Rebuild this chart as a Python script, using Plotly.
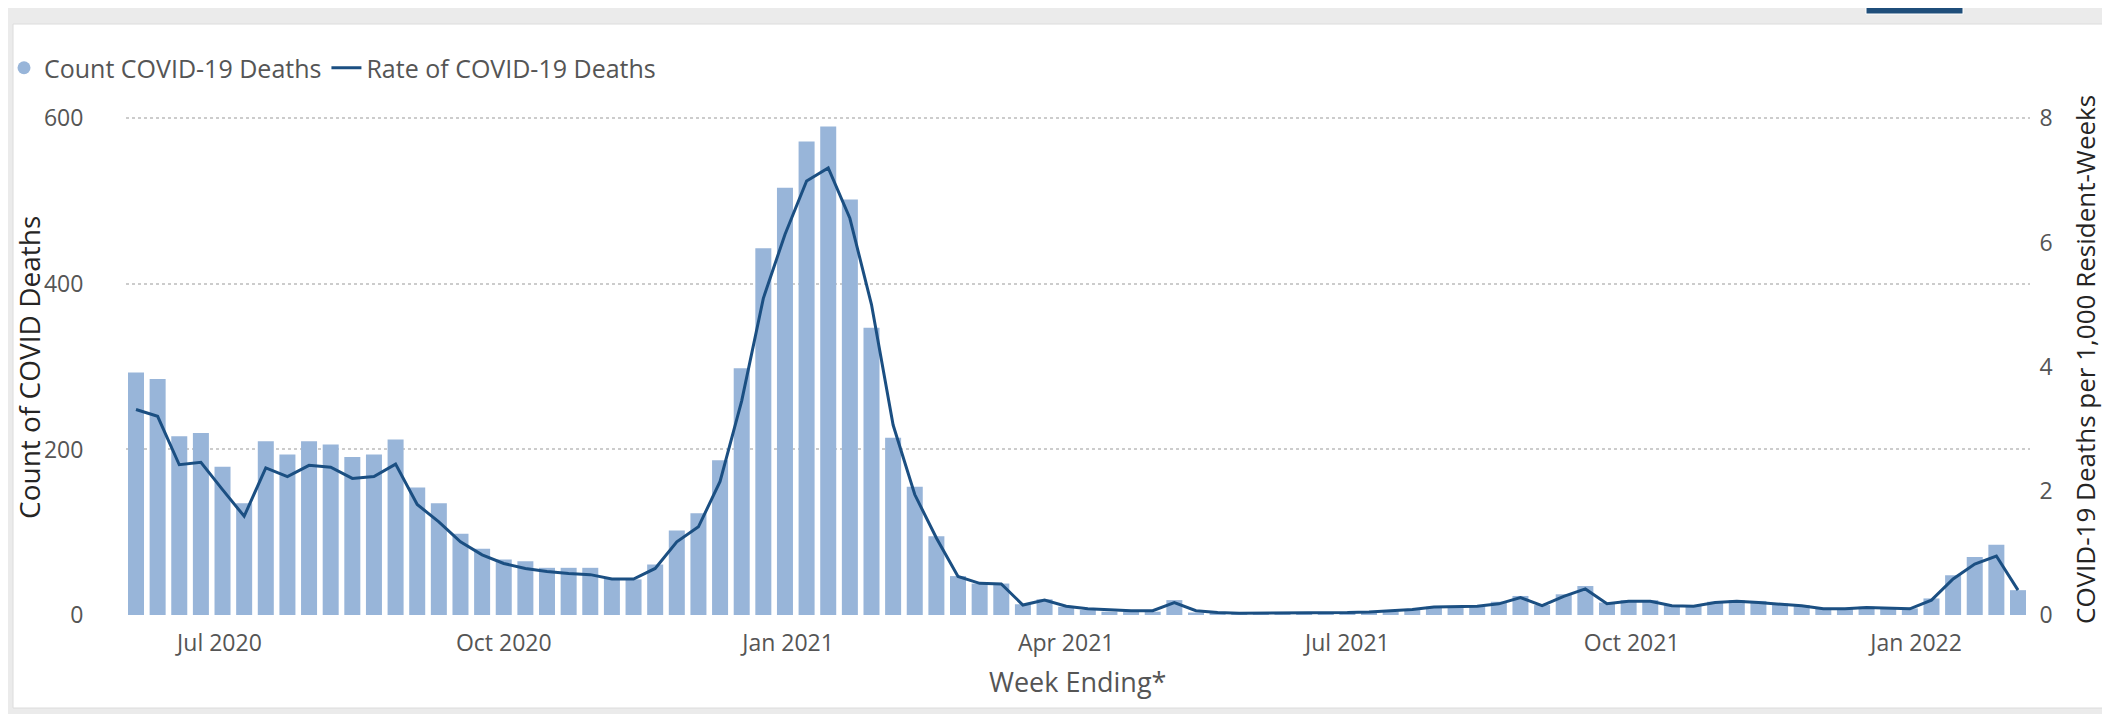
import pandas as pd
import plotly.graph_objects as go

# ---------------- data ----------------
week_start = "2020-06-04"
n_weeks = 88
count_deaths = [293, 285, 216, 220, 179, 135, 210, 194, 210, 206,
                191, 194, 212, 154, 135, 98, 80, 67, 65, 57,
                57, 57, 44, 43, 61, 102, 123, 187, 298, 443,
                516, 572, 590, 502, 347, 214, 155, 95, 47, 38,
                38, 13, 19, 10, 6, 4, 4, 4, 18, 3,
                2, 1, 1, 1, 1, 1, 2, 3, 4, 6,
                10, 10, 10, 16, 23, 12, 25, 35, 15, 18,
                18, 12, 11, 16, 18, 17, 14, 12, 8, 8,
                10, 9, 8, 20, 48, 70, 85, 30]
rate_deaths = [3.31, 3.20, 2.42, 2.46, 2.02, 1.59, 2.37, 2.23, 2.41, 2.38,
               2.20, 2.23, 2.43, 1.78, 1.50, 1.18, 0.97, 0.83, 0.75, 0.70,
               0.67, 0.65, 0.58, 0.58, 0.75, 1.18, 1.42, 2.15, 3.45, 5.10,
               6.13, 6.99, 7.20, 6.39, 5.00, 3.06, 1.94, 1.24, 0.62, 0.51,
               0.50, 0.16, 0.24, 0.14, 0.10, 0.08, 0.07, 0.07, 0.20, 0.07,
               0.04, 0.03, 0.03, 0.03, 0.03, 0.03, 0.04, 0.05, 0.07, 0.09,
               0.13, 0.13, 0.14, 0.18, 0.28, 0.15, 0.30, 0.42, 0.18, 0.22,
               0.22, 0.15, 0.14, 0.20, 0.22, 0.20, 0.18, 0.15, 0.10, 0.10,
               0.12, 0.11, 0.10, 0.24, 0.58, 0.82, 0.95, 0.40]
y_left_ticks = [0, 200, 400, 600]
y_right_ticks = [0, 2, 4, 6, 8]

weeks = pd.date_range(week_start, periods=n_weeks, freq="7D")

# ---------------- layout geometry ----------------
W, H = 2110, 714
ML, MR, MT, MB = 118, 88, 107, 107
PW, PH = W - ML - MR, H - MT - MB
FIRST_PX, LAST_PX = 128, 2010          # pixel centres of first / last bar

def px2x(px):
    return (px - ML) / PW

def px2y(py):
    return (H - MB - py) / PH

BAR = "#98b5d9"
LINE = "#1b4f82"
FONT = "Segoe UI, Open Sans, sans-serif"
GRAY = "#555555"
DARK = "#252423"

fig = go.Figure()
fig.add_trace(go.Bar(
    x=weeks, y=count_deaths, name="Count COVID-19 Deaths",
    marker=dict(color=BAR, line=dict(width=0)),
    width=0.74 * 7 * 86400000, showlegend=False, yaxis="y"))
fig.add_trace(go.Scatter(
    x=weeks, y=rate_deaths, name="Rate of COVID-19 Deaths", mode="lines",
    line=dict(color=LINE, width=3), yaxis="y2", showlegend=False))
# legend entries
fig.add_trace(go.Scatter(x=[None], y=[None], mode="markers", name="Count COVID-19 Deaths",
                         marker=dict(color=BAR, size=13, symbol="circle")))
fig.add_trace(go.Scatter(x=[None], y=[None], mode="lines", name="Rate of COVID-19 Deaths",
                         line=dict(color=LINE, width=3)))

px_per_day = (LAST_PX - FIRST_PX) / ((n_weeks - 1) * 7)
x0 = weeks[0] - pd.Timedelta(days=(FIRST_PX - ML) / px_per_day)
x1 = weeks[-1] + pd.Timedelta(days=(W - MR - LAST_PX) / px_per_day)

YMAX = 604
fig.update_layout(
    width=W, height=H,
    margin=dict(l=ML, r=MR, t=MT, b=MB, autoexpand=False),
    paper_bgcolor="#ebebeb", plot_bgcolor="rgba(0,0,0,0)",
    font=dict(family=FONT, color=GRAY, size=23),
    xaxis=dict(range=[x0, x1], type="date", tick0="2020-07-01", dtick="M3",
               tickformat="%b %Y", showgrid=False, zeroline=False, showline=False,
               ticks="outside", ticklen=7, tickcolor="rgba(0,0,0,0)",
               tickfont=dict(size=23, color=GRAY)),
    yaxis=dict(range=[0, YMAX], tickvals=y_left_ticks, showgrid=True,
               gridcolor="#cccccc", griddash="dot", gridwidth=1.5,
               zeroline=False, showline=False, ticks="outside", ticklen=37,
               tickcolor="rgba(0,0,0,0)", tickfont=dict(size=23, color=GRAY)),
    yaxis2=dict(range=[0, 8 * YMAX / 600], tickvals=y_right_ticks, overlaying="y", side="right",
                showgrid=False, zeroline=False, showline=False, ticks="outside", ticklen=4,
                tickcolor="rgba(0,0,0,0)", tickfont=dict(size=23, color=GRAY)),
    legend=dict(orientation="h", x=px2x(-4), y=px2y(60), xanchor="left", yanchor="middle",
                font=dict(size=25, color=GRAY), bgcolor="rgba(0,0,0,0)",
                itemwidth=30, traceorder="normal"),
    shapes=[
        dict(type="rect", xref="paper", yref="paper", layer="below",
             x0=px2x(5), x1=px2x(2105), y0=px2y(700), y1=px2y(16),
             fillcolor="white", line=dict(color="#dcdcdc", width=1)),
        dict(type="rect", xref="paper", yref="paper", layer="above",
             x0=px2x(1858), x1=px2x(1955), y0=px2y(6), y1=px2y(-4),
             fillcolor="#1f4e7a", line=dict(color="white", width=1)),
    ],
    annotations=[
        dict(text="Count of COVID Deaths", xref="paper", yref="paper",
             x=px2x(21), y=px2y(360), textangle=-90, showarrow=False,
             xanchor="center", yanchor="middle",
             font=dict(size=28, color=DARK, family=FONT)),
        dict(text="Week Ending*", xref="paper", yref="paper",
             x=px2x(1069), y=px2y(673), showarrow=False,
             xanchor="center", yanchor="middle",
             font=dict(size=27, color=GRAY, family=FONT)),
        dict(text="COVID-19 Deaths per 1,000 Resident-Weeks", xref="paper", yref="paper",
             x=px2x(2077), y=px2y(352), textangle=-90, showarrow=False,
             xanchor="center", yanchor="middle",
             font=dict(size=26, color=DARK, family=FONT)),
    ],
)

fig.write_html("out.html")
